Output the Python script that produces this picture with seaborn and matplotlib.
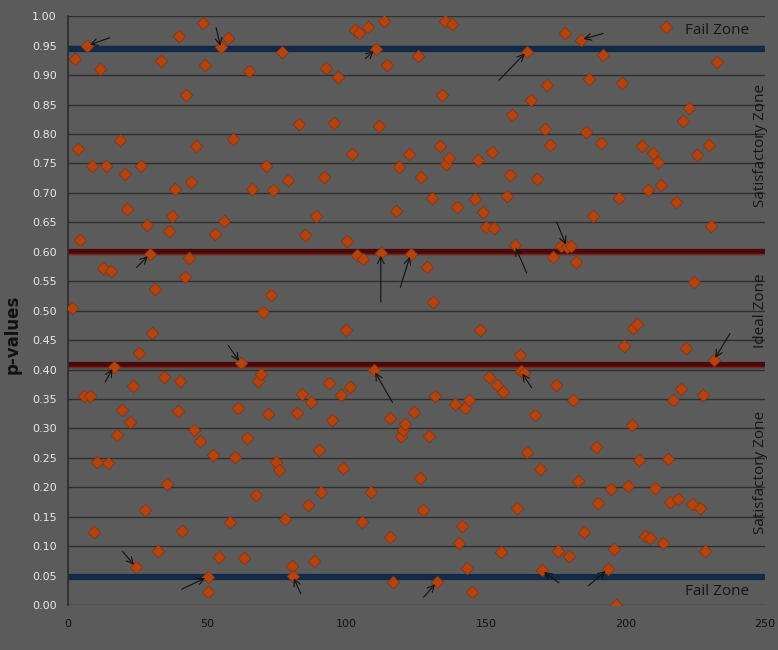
import matplotlib
matplotlib.use("Agg")
import matplotlib.pyplot as plt
import seaborn as sns

sns.set_theme(style="white")

# sample index and p-value for each test
sample_x = [
    1.4, 2.5, 3.6, 4.3, 5.7, 7.0, 8.0, 8.6, 9.3, 10.4, 11.5, 12.6, 13.6, 14.3, 15.4,
    16.5, 17.6, 18.7, 19.4, 20.4, 21.2, 22.2, 23.3, 24.4, 25.5, 26.2, 27.6, 28.3,
    29.4, 30.1, 31.2, 32.3, 33.4, 34.4, 35.5, 36.2, 37.3, 38.4, 39.5, 39.8, 40.2,
    40.9, 42.0, 42.3, 43.4, 44.1, 45.2, 45.9, 47.3, 48.4, 49.1, 50.2, 50.2, 52.0,
    53.0, 54.2, 54.9, 56.0, 57.4, 58.1, 59.2, 59.9, 61.0, 62.0, 63.1, 64.2, 64.9,
    66.0, 67.4, 68.1, 69.2, 69.9, 71.0, 71.7, 72.8, 73.5, 74.6, 75.7, 76.8, 77.8,
    78.9, 80.3, 80.7, 82.1, 82.9, 83.9, 85.0, 86.1, 87.2, 88.2, 89.0, 90.0, 90.7,
    91.8, 92.5, 93.6, 94.7, 95.4, 96.8, 97.9, 98.6, 99.7, 100.1, 101.1, 101.9,
    102.9, 103.7, 104.4, 105.5, 105.8, 107.6, 108.7, 109.8, 110.5, 111.6, 112.3,
    113.3, 114.4, 115.5, 115.5, 116.6, 117.6, 118.7, 119.4, 120.2, 120.9, 122.3,
    123.0, 124.1, 125.5, 126.3, 126.6, 127.3, 128.8, 129.5, 130.6, 130.9, 131.6,
    132.4, 133.4, 134.1, 135.2, 135.6, 136.7, 137.7, 138.8, 139.5, 140.2, 141.3,
    142.4, 143.1, 143.8, 144.9, 146.0, 147.1, 147.8, 148.9, 150.0, 151.0, 152.1,
    152.8, 153.9, 155.3, 156.0, 157.5, 158.5, 159.3, 160.3, 161.0, 162.1, 162.5,
    163.6, 164.6, 164.6, 166.1, 167.5, 168.2, 169.3, 170.0, 171.1, 171.8, 172.9,
    174.0, 175.2, 175.8, 176.8, 178.3, 179.0, 179.7, 180.4, 181.1, 182.2, 182.9,
    184.0, 185.1, 185.8, 186.9, 188.3, 189.4, 190.1, 191.2, 191.9, 193.7, 194.8,
    195.8, 196.6, 197.6, 198.7, 199.4, 200.9, 202.3, 202.7, 204.1, 204.8, 205.9,
    207.0, 208.0, 208.8, 209.8, 210.5, 211.6, 212.7, 213.4, 214.5, 215.2, 215.9,
    217.0, 218.0, 218.8, 219.9, 220.6, 221.7, 222.7, 224.0, 224.5, 225.6, 226.7,
    227.8, 228.5, 229.9, 230.6, 231.7, 232.8,
]
p_values = [
    0.504, 0.927, 0.775, 0.620, 0.356, 0.950, 0.356, 0.745, 0.125, 0.243, 0.911,
    0.572, 0.745, 0.241, 0.567, 0.405, 0.289, 0.790, 0.331, 0.732, 0.672, 0.311,
    0.372, 0.065, 0.428, 0.745, 0.161, 0.645, 0.596, 0.462, 0.537, 0.092, 0.924,
    0.387, 0.205, 0.635, 0.660, 0.706, 0.329, 0.966, 0.380, 0.126, 0.557, 0.866,
    0.589, 0.718, 0.297, 0.779, 0.278, 0.988, 0.918, 0.048, 0.022, 0.255, 0.630,
    0.081, 0.948, 0.652, 0.963, 0.141, 0.791, 0.251, 0.334, 0.411, 0.080, 0.284,
    0.907, 0.706, 0.187, 0.380, 0.392, 0.497, 0.745, 0.324, 0.526, 0.705, 0.243,
    0.229, 0.940, 0.146, 0.722, 0.066, 0.050, 0.326, 0.817, 0.358, 0.628, 0.170,
    0.345, 0.075, 0.660, 0.263, 0.192, 0.727, 0.912, 0.377, 0.314, 0.818, 0.896,
    0.357, 0.233, 0.467, 0.618, 0.370, 0.766, 0.976, 0.594, 0.971, 0.141, 0.587,
    0.981, 0.192, 0.399, 0.944, 0.813, 0.598, 0.992, 0.918, 0.318, 0.115, 0.039,
    0.669, 0.744, 0.287, 0.297, 0.307, 0.766, 0.596, 0.328, 0.932, 0.216, 0.727,
    0.161, 0.574, 0.287, 0.691, 0.514, 0.355, 0.039, 0.779, 0.866, 0.992, 0.749,
    0.759, 0.986, 0.341, 0.676, 0.105, 0.134, 0.334, 0.063, 0.348, 0.022, 0.689,
    0.756, 0.467, 0.667, 0.642, 0.387, 0.769, 0.640, 0.374, 0.090, 0.362, 0.694,
    0.730, 0.832, 0.611, 0.165, 0.424, 0.397, 0.394, 0.940, 0.260, 0.857, 0.323,
    0.723, 0.231, 0.059, 0.808, 0.883, 0.781, 0.591, 0.374, 0.092, 0.610, 0.971,
    0.608, 0.083, 0.610, 0.348, 0.582, 0.211, 0.959, 0.124, 0.803, 0.893, 0.660,
    0.268, 0.173, 0.784, 0.934, 0.061, 0.197, 0.095, 0.000, 0.691, 0.886, 0.440,
    0.202, 0.306, 0.470, 0.477, 0.246, 0.779, 0.117, 0.705, 0.114, 0.767, 0.199,
    0.752, 0.713, 0.105, 0.981, 0.248, 0.175, 0.348, 0.684, 0.180, 0.367, 0.822,
    0.436, 0.844, 0.171, 0.548, 0.764, 0.165, 0.357, 0.092, 0.781, 0.643, 0.416,
    0.922,
]

# zone boundaries
fail_levels = [0.945, 0.048]
ideal_levels = [0.600, 0.408]

# arrows: (target x, target p, tail x, tail p)
arrows = [
    (7.0, 0.950, 16, 0.965), (55.0, 0.945, 53, 0.985), (110.5, 0.944, 106, 0.925),
    (164.6, 0.940, 154, 0.888), (184.0, 0.960, 193, 0.972), (29.4, 0.596, 24, 0.570),
    (112.3, 0.598, 112.3, 0.510), (123.0, 0.596, 119, 0.535), (160.3, 0.611, 165, 0.560),
    (179.0, 0.608, 175, 0.655), (16.5, 0.405, 13, 0.375), (62.0, 0.411, 57, 0.445),
    (109.8, 0.399, 117, 0.340), (162.5, 0.397, 167, 0.365), (231.7, 0.416, 238, 0.465),
    (24.4, 0.065, 19, 0.095), (50.2, 0.048, 40, 0.025), (80.7, 0.050, 84, 0.015),
    (132.4, 0.039, 127, 0.010), (170.0, 0.059, 177, 0.035), (193.7, 0.061, 186, 0.030),
]

fig = plt.figure(figsize=(7.78, 6.5), dpi=100, facecolor="#5b5b5b")
ax = fig.add_axes([0.087, 0.069, 0.896, 0.906])
ax.set_facecolor("#5b5b5b")

for yv in [i * 0.05 for i in range(21)]:
    ax.axhline(yv, color="#2e2e2e", lw=1.0, zorder=1)
for yv in fail_levels:
    ax.axhline(yv, color="#102a47", lw=4.5, zorder=2)
for yv in ideal_levels:
    ax.axhline(yv, color="#4a0808", lw=4.5, zorder=2)
    ax.axhline(yv - 0.004, color="#7a2a25", lw=1.0, zorder=2)

sns.scatterplot(x=sample_x, y=p_values, marker="D", s=42, color="#b3430f",
                edgecolor="#8a300a", linewidth=0.5, zorder=4, ax=ax)

for tx, ty, sx, sy in arrows:
    ax.annotate("", xy=(tx, ty), xytext=(sx, sy),
                arrowprops=dict(arrowstyle="->", color="#111111", lw=0.8), zorder=5)

ax.set_xlim(0, 250)
ax.set_ylim(0, 1.0)
ax.set_xticks(range(0, 251, 50))
ax.set_yticks([i * 0.05 for i in range(21)])
ax.set_yticklabels([f"{i * 0.05:.2f}" for i in range(21)])
ax.tick_params(axis="y", labelsize=8, colors="#e8e8e8", length=0, pad=8)
ax.tick_params(axis="x", labelsize=8, colors="#111111", length=0, pad=10)
ax.set_ylabel("p-values", fontsize=12, fontweight="bold", color="#111111")
ax.yaxis.set_label_coords(-0.066, 0.46)
for side in ["top", "right", "bottom"]:
    ax.spines[side].set_visible(False)
ax.spines["left"].set_color("#2e2e2e")

ax.text(233, 0.976, "Fail Zone", fontsize=11, color="#151515", ha="center", va="center",
        family="Open Sans")
ax.text(233, 0.024, "Fail Zone", fontsize=11, color="#151515", ha="center", va="center",
        family="Open Sans")
ax.text(248.5, 0.78, "Satisfactory Zone", fontsize=11, color="#151515", rotation=90,
        ha="center", va="center", family="Open Sans")
ax.text(248.5, 0.50, "Ideal Zone", fontsize=11, color="#151515", rotation=90,
        ha="center", va="center", family="Open Sans")
ax.text(248.5, 0.225, "Satisfactory Zone", fontsize=11, color="#151515", rotation=90,
        ha="center", va="center", family="Open Sans")

fig.savefig("out.png", dpi=100, facecolor=fig.get_facecolor())
